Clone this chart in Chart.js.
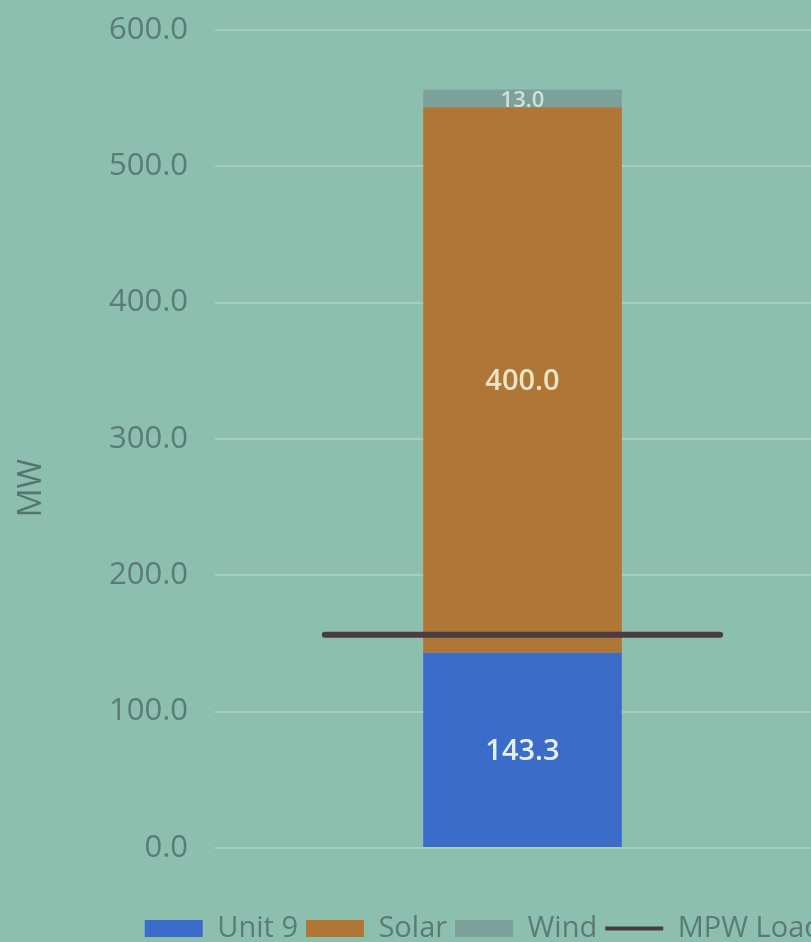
<!DOCTYPE html>
<html>
<head>
<meta charset="utf-8">
<script src="https://cdn.jsdelivr.net/npm/chart.js@4"></script>
<style>
  html, body { margin: 0; padding: 0; background: #8dbfae; overflow: hidden; }
  #wrap { width: 830px; height: 942px; }
</style>
</head>
<body>
<div id="wrap"><canvas id="c" width="830" height="942"></canvas></div>
<script>
// Generation stack for the hour, in MW
const categories = [''];
const unit9 = [143.3];
const solar = [400.0];
const wind = [13.0];
// MPW load level and the horizontal extent of its line on the hidden x2 scale
const mpwLoad = [156.4, 156.4];
const loadExtent = [-0.707, 0.707];
const yTicks = [0, 100, 200, 300, 400, 500, 600];
const yTitle = 'MW';

const FONT = "'Open Sans', 'Noto Sans', sans-serif";
const TEXT = '#5b7c75';

// Value labels centred in each stacked segment
const segmentLabels = {
  id: 'segmentLabels',
  afterDatasetsDraw(chart) {
    const ctx = chart.ctx;
    const styles = [
      { size: 29, weight: 600, color: '#e2f0eb' },
      { size: 29, weight: 600, color: '#efe3c6' },
      { size: 22, weight: 600, color: 'rgba(222,236,228,0.85)' }
    ];
    [0, 1, 2].forEach(i => {
      const meta = chart.getDatasetMeta(i);
      const ds = chart.data.datasets[i];
      meta.data.forEach((el, j) => {
        const v = ds.data[j];
        const cy = (el.y + el.base) / 2;
        ctx.save();
        ctx.font = `${styles[i].weight} ${styles[i].size}px ${FONT}`;
        ctx.fillStyle = styles[i].color;
        ctx.textAlign = 'center';
        ctx.textBaseline = 'middle';
        ctx.fillText(v.toFixed(1), el.x, cy + 2);
        ctx.restore();
      });
    });
  }
};

// Rotated unit label to the left of the value axis
const axisUnit = {
  id: 'axisUnit',
  afterDraw(chart) {
    const ctx = chart.ctx;
    const a = chart.chartArea;
    ctx.save();
    ctx.translate(32, a.top + (a.bottom - a.top) * 0.56);
    ctx.rotate(-Math.PI / 2);
    ctx.font = `32px ${FONT}`;
    ctx.fillStyle = '#557570';
    ctx.textAlign = 'center';
    ctx.textBaseline = 'middle';
    ctx.fillText(yTitle, 0, 0);
    ctx.restore();
  }
};

new Chart(document.getElementById('c'), {
  type: 'bar',
  data: {
    labels: categories,
    datasets: [
      { label: 'Unit 9', data: unit9, backgroundColor: '#3c6cca', order: 1, stack: 'gen',
        grouped: false, categoryPercentage: 1, barPercentage: 0.323 },
      { label: 'Solar', data: solar, backgroundColor: '#b07636', order: 1, stack: 'gen',
        grouped: false, categoryPercentage: 1, barPercentage: 0.323 },
      { label: 'Wind', data: wind, backgroundColor: '#7ca19b', order: 1, stack: 'gen',
        grouped: false, categoryPercentage: 1, barPercentage: 0.323 },
      { label: 'MPW Load', type: 'line', xAxisID: 'x2', order: 0,
        data: loadExtent.map((x, i) => ({ x, y: mpwLoad[i] })),
        borderColor: '#4a3d41', backgroundColor: '#4a3d41', borderWidth: 6,
        borderCapStyle: 'round', pointRadius: 0, fill: false, tension: 0 }
    ]
  },
  options: {
    responsive: false,
    devicePixelRatio: 1,
    animation: false,
    layout: { padding: { top: 30, left: 0, right: 0, bottom: -11 } },
    scales: {
      x: {
        stacked: true,
        min: 0, max: 0,
        grid: { display: false },
        border: { display: false },
        ticks: { display: false },
        afterFit: s => { s.height = 58; }
      },
      x2: {
        type: 'linear', min: -1, max: 1, display: false
      },
      y: {
        stacked: true,
        min: 0, max: 600,
        afterBuildTicks: s => { s.ticks = yTicks.map(v => ({ value: v })); },
        afterFit: s => { s.width = 215; s.paddingTop = 0; },
        grid: { color: '#a6cec0', lineWidth: 2, drawTicks: false },
        border: { display: false },
        ticks: {
          padding: 27,
          color: TEXT,
          font: { family: FONT, size: 31 },
          callback: v => Number(v).toFixed(1)
        }
      }
    },
    plugins: {
      tooltip: { enabled: false },
      legend: {
        position: 'bottom',
        align: 'end',
        labels: {
          usePointStyle: true,
          pointStyleWidth: 58,
          boxHeight: 17,
          padding: 8,
          color: TEXT,
          font: { family: FONT, size: 29 },
          sort: (a, b) => a.datasetIndex - b.datasetIndex,
          generateLabels(chart) {
            return chart.data.datasets.map((ds, i) => ({
              text: ds.label,
              datasetIndex: i,
              fillStyle: ds.type === 'line' ? ds.borderColor : ds.backgroundColor,
              strokeStyle: ds.type === 'line' ? ds.borderColor : ds.backgroundColor,
              lineWidth: ds.type === 'line' ? 4 : 0,
              pointStyle: ds.type === 'line' ? 'line' : 'rect',
              fontColor: TEXT,
              hidden: false
            }));
          }
        }
      }
    }
  },
  plugins: [segmentLabels, axisUnit]
});
</script>
</body>
</html>
